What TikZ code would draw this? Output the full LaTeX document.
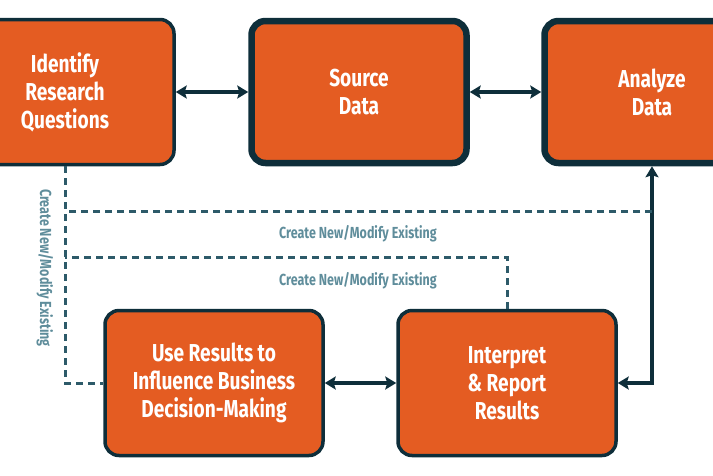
\documentclass[tikz,border=0pt]{standalone}
\usepackage{fontspec}
\setmainfont{Fira Sans}
\newfontfamily\condfont{Fira Sans}[FakeStretch=0.78]
\usetikzlibrary{arrows.meta}
\definecolor{flowfill}{HTML}{E45C22}
\definecolor{flowedge}{HTML}{0E2E3A}
\definecolor{flowdash}{HTML}{2D5A69}
\definecolor{flownotecol}{HTML}{5F8D9B}
\tikzset{
  flowbox/.style={rectangle, rounded corners=14pt, draw=flowedge, fill=flowfill,
                  line width=3.5pt, minimum width=218pt, minimum height=145pt,
                  align=center, text=white,
                  font=\condfont\bfseries\fontsize{24.5}{28}\selectfont},
  flowheavy/.style={flowbox, line width=6.5pt, minimum width=215pt,
                    minimum height=142pt},
  flowlink/.style={draw=flowedge, line width=4pt,
                   {Stealth[length=11pt,width=13pt,inset=2pt]}-{Stealth[length=11pt,width=13pt,inset=2pt]}},
  flowloop/.style={draw=flowdash, line width=3pt, dash pattern=on 7pt off 5pt},
  flownote/.style={text=flownotecol,
                   font=\condfont\bfseries\fontsize{16}{18}\selectfont}
}

\begin{document}
\begin{tikzpicture}[
    x=1pt, y=-1pt
]
  \useasboundingbox (0,0) rectangle (713,475);
  \clip (0,0) rectangle (713,475);
  \node[flowbox] (ident) at (65,92) {Identify\\Research\\Questions};
  \node[flowheavy] (source) at (359,92) {Source\\Data};
  \node[flowheavy] (analyze) at (652,92) {Analyze\\Data};
  \node[flowbox] (useres) at (214,383) {Use Results to\\Influence Business\\Decision-Making};
  \node[flowbox] (interp) at (507,383) {Interpret\\\& Report\\Results};
  \draw[flowlink] (ident) -- (source);
  \draw[flowlink] (source) -- (analyze);
  \draw[flowlink] (useres) -- (interp);
  \draw[flowlink] (interp.east) -| (analyze.south);
  % Feedback loops back to the first step.
  \coordinate (highbend) at (65,211);
  \coordinate (highend) at (652,211);
  \coordinate (lowbend) at (65,257);
  \draw[flowloop] (ident.south) |- (useres.west);
  \draw[flowloop] (highend) -- (highbend);
  \draw[flowloop] (interp.north) |- (lowbend);
  \foreach \y/\name in {234/highnote, 281/lownote} {
    \node[flownote] (\name) at (358,\y) {Create New/Modify Existing};
  }
  \node[flownote, rotate=-90] (sidenote) at (45,268) {Create New/Modify Existing};
\end{tikzpicture}
\end{document}
